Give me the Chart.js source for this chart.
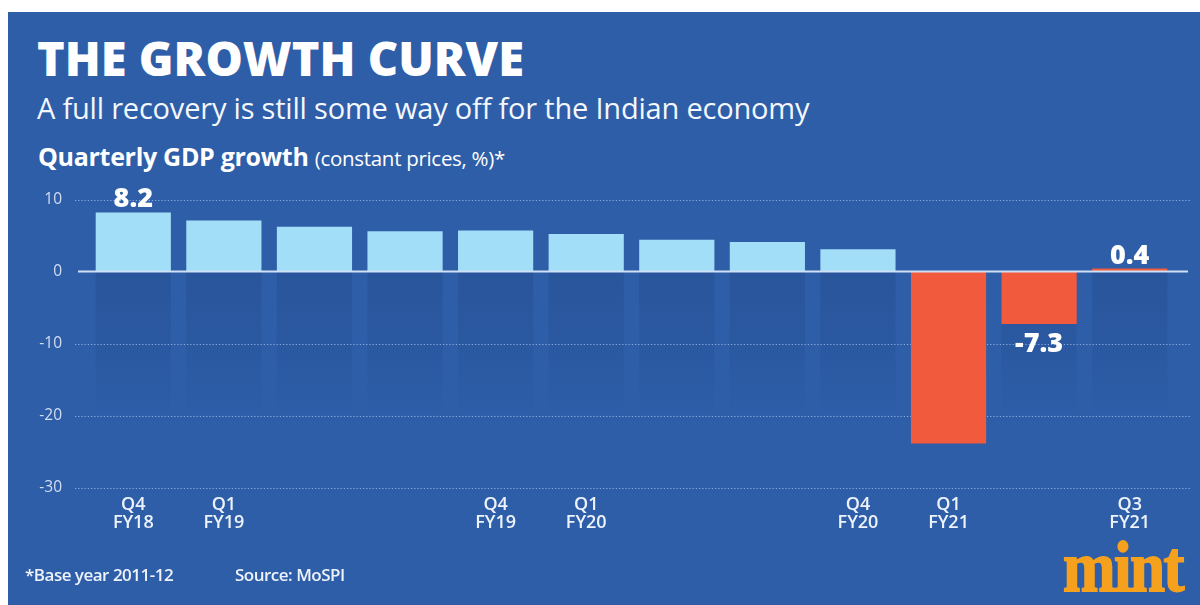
<!DOCTYPE html>
<html>
<head>
<meta charset="utf-8">
<script src="https://cdn.jsdelivr.net/npm/chart.js@4"></script>
<style>
  html,body{margin:0;padding:0;background:#fff;}
  body{width:1200px;height:605px;position:relative;overflow:hidden;font-family:"Open Sans",sans-serif;}
  #panel{position:absolute;left:8px;top:12px;right:0;bottom:0;background:#2e5ea8;}
  #chartWrap{position:absolute;left:0;top:0;width:1200px;height:605px;}
  .t{position:absolute;color:#fff;white-space:nowrap;line-height:1;}
  #title{left:37px;top:35px;font-size:47px;font-weight:800;letter-spacing:0px;}
  #sub{left:37px;top:93px;font-size:29px;font-weight:500;color:#f4f7fc;letter-spacing:-0.2px;}
  #yt{left:38px;top:144px;font-size:25px;font-weight:700;letter-spacing:-0.3px;}
  #yt span{font-size:20.5px;font-weight:400;letter-spacing:-0.3px;}
  #foot1{left:25px;top:566px;font-size:17px;font-weight:600;color:#eef3fb;letter-spacing:-0.5px;}
  #foot2{left:235px;top:566px;font-size:17px;font-weight:600;color:#eef3fb;letter-spacing:-0.5px;}
  #logo{left:1063px;top:541px;font-family:"Liberation Serif",serif;font-weight:700;font-size:63px;color:#f6a11e;transform:scaleY(1.15);transform-origin:left bottom;letter-spacing:-1.5px;-webkit-text-stroke:1.6px #f6a11e;}
</style>
</head>
<body>
<div id="panel"></div>
<div class="t" id="title">THE GROWTH CURVE</div>
<div class="t" id="sub">A full recovery is still some way off for the Indian economy</div>
<div class="t" id="yt">Quarterly GDP growth <span>(constant prices, %)*</span></div>
<div id="chartWrap"><canvas id="c" width="1200" height="605"></canvas></div>
<div class="t" id="foot1">*Base year 2011-12</div>
<div class="t" id="foot2">Source: MoSPI</div>
<div class="t" id="logo">mint</div>
<script>
// ---- data ----
const categories = ['Q4 FY18','Q1 FY19','Q2 FY19','Q3 FY19','Q4 FY19','Q1 FY20','Q2 FY20','Q3 FY20','Q4 FY20','Q1 FY21','Q2 FY21','Q3 FY21'];
const growth = [8.2, 7.1, 6.2, 5.6, 5.7, 5.2, 4.4, 4.1, 3.1, -23.9, -7.3, 0.4];
const tickLabels = [['Q4','FY18'],['Q1','FY19'],'','',['Q4','FY19'],['Q1','FY20'],'','',['Q4','FY20'],['Q1','FY21'],'',['Q3','FY21']];
const labelledIdx = [0, 10, 11];
const yTicks = [10, 0, -10, -20, -30];

const lightBar = '#a2def8';
const redBar = '#f25a3e';

const decor = {
  id: 'decor',
  beforeDatasetsDraw(chart) {
    const ctx = chart.ctx, y = chart.scales.y, area = chart.chartArea;
    const meta = chart.getDatasetMeta(0);
    const y0 = y.getPixelForValue(0), yb = y.getPixelForValue(-20);
    ctx.save();
    const g = ctx.createLinearGradient(0, y0, 0, yb);
    g.addColorStop(0, 'rgba(22,50,105,0.2)');
    g.addColorStop(0.6, 'rgba(22,50,105,0.09)');
    g.addColorStop(1, 'rgba(22,50,105,0)');
    ctx.fillStyle = g;
    meta.data.forEach(b => {
      ctx.fillRect(b.x - b.width/2, y0, b.width, yb - y0);
    });
    // dotted grid lines
    ctx.strokeStyle = 'rgba(165,195,240,0.8)';
    ctx.lineWidth = 1;
    ctx.setLineDash([1.2, 2]);
    yTicks.forEach(v => {
      if (v === 0) return;
      const py = Math.round(y.getPixelForValue(v)) + 0.5;
      ctx.beginPath();
      ctx.moveTo(area.left - 13, py);
      ctx.lineTo(area.right + 16, py);
      ctx.stroke();
    });
    ctx.restore();
  },
  afterDatasetsDraw(chart) {
    const ctx = chart.ctx, y = chart.scales.y, area = chart.chartArea;
    const y0 = y.getPixelForValue(0);
    ctx.save();
    ctx.strokeStyle = '#cfe2f5';
    ctx.lineWidth = 2;
    ctx.beginPath();
    ctx.moveTo(area.left - 10, y0);
    ctx.lineTo(area.right + 13, y0);
    ctx.stroke();
    // value labels
    const meta = chart.getDatasetMeta(0);
    ctx.fillStyle = '#ffffff';
    ctx.font = '800 27px "Open Sans"';
    ctx.textAlign = 'center';
    ctx.textBaseline = 'alphabetic';
    labelledIdx.forEach(i => {
      const b = meta.data[i], v = growth[i];
      if (v >= 0) {
        ctx.fillText(v.toFixed(1), b.x, Math.min(b.y, y0) - 5);
      } else {
        ctx.fillText(v.toFixed(1), b.x, b.y + 28);
      }
    });
    ctx.restore();
  }
};

new Chart(document.getElementById('c'), {
  type: 'bar',
  data: {
    labels: categories,
    datasets: [{
      data: growth,
      backgroundColor: growth.map((v, i) => v < 0 || i === growth.length - 1 ? redBar : lightBar),
      borderWidth: 0,
      barPercentage: 0.83,
      categoryPercentage: 1.0
    }]
  },
  options: {
    responsive: false,
    animation: false,
    devicePixelRatio: 1,
    layout: { padding: { top: 199.5, right: 25, left: 0, bottom: 0 } },
    plugins: { legend: { display: false }, tooltip: { enabled: false } },
    scales: {
      x: {
        grid: { display: false, drawTicks: false },
        border: { display: false },
        afterFit(s) { s.height = 605 - 487.5; },
        ticks: {
          autoSkip: false, maxRotation: 0, padding: 8,
          color: '#eef3fb',
          font: { family: '"Open Sans"', size: 18, weight: '600', lineHeight: 1.0 },
          callback: (v, i) => tickLabels[i]
        }
      },
      y: {
        min: -30, max: 10,
        grid: { display: false, drawTicks: false },
        border: { display: false },
        afterFit(s) { s.width = 88; },
        ticks: {
          stepSize: 10, padding: 26,
          color: '#d3def2',
          font: { family: '"Open Sans"', size: 15.5 }
        }
      }
    }
  },
  plugins: [decor]
});
</script>
</body>
</html>
